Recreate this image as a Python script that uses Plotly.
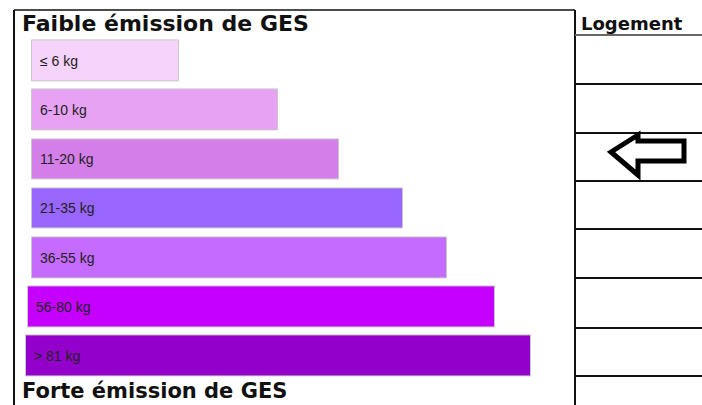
import plotly.graph_objects as go

W, H = 702, 405

# ---- data ----
categories = ["≤ 6 kg", "6-10 kg", "11-20 kg", "21-35 kg", "36-55 kg", "56-80 kg", "> 81 kg"]
bar_lengths = [147, 246, 307, 371, 415, 467, 505]
bar_starts = [32, 32, 32, 32, 32, 28, 26]
bar_colors = ["#f6d3fa", "#e8a2f3", "#d47fe9", "#9966ff", "#c66bff", "#c500ff", "#9300cc"]
title_top = "Faible émission de GES"
title_bottom = "Forte émission de GES"
column_header = "Logement"


def py(p):
    """pixel y -> paper y"""
    return 1 - p / H


fig = go.Figure()
fig.add_trace(go.Bar(
    y=categories,
    x=bar_lengths,
    base=bar_starts,
    orientation="h",
    width=0.83,
    marker=dict(color=bar_colors, line=dict(color="#c8c8c8", width=1)),
    hoverinfo="skip",
    showlegend=False,
))

annotations = []
for i, c in enumerate(categories):
    annotations.append(dict(
        x=bar_starts[i] + 6, y=c, xref="x", yref="y", text=c, showarrow=False,
        xanchor="left", yanchor="middle",
        font=dict(family="Liberation Sans", size=14, color="#222222"),
    ))
annotations.append(dict(
    x=20, y=py(23), xref="x", yref="paper", text=title_top, showarrow=False,
    xanchor="left", yanchor="middle",
    font=dict(family="DejaVu Sans", size=22, color="#111111", weight="bold"),
))
annotations.append(dict(
    x=20, y=py(391), xref="x", yref="paper", text=title_bottom, showarrow=False,
    xanchor="left", yanchor="middle",
    font=dict(family="DejaVu Sans", size=21, color="#111111", weight="bold"),
))
annotations.append(dict(
    x=579, y=py(24), xref="x", yref="paper", text=column_header, showarrow=False,
    xanchor="left", yanchor="middle",
    font=dict(family="DejaVu Sans", size=18, color="#111111", weight="bold"),
))

shapes = []
line_black = dict(color="#111111", width=2)
# frame
shapes.append(dict(type="line", xref="x", yref="paper", x0=14, x1=14, y0=py(10), y1=py(405), line=line_black))
shapes.append(dict(type="line", xref="x", yref="paper", x0=14, x1=575, y0=py(10), y1=py(10), line=dict(color="#111111", width=1.5)))
shapes.append(dict(type="line", xref="x", yref="paper", x0=575, x1=575, y0=py(10), y1=py(405), line=line_black))
shapes.append(dict(type="line", xref="x", yref="paper", x0=575, x1=702, y0=py(35), y1=py(35), line=dict(color="#666666", width=2)))
for yy in [84, 133, 181, 229, 278, 328, 376]:
    shapes.append(dict(type="line", xref="x", yref="paper", x0=575, x1=702, y0=py(yy), y1=py(yy), line=line_black))

# arrow (outline) in the third row
pts = [(611, 152), (638, 135), (638, 141), (684, 141), (684, 161), (638, 161), (638, 175)]
path = "M " + " L ".join(f"{x},{py(y):.5f}" for x, y in pts) + " Z"
shapes.append(dict(type="path", xref="x", yref="paper", path=path,
                   line=dict(color="#000000", width=5), fillcolor="rgba(0,0,0,0)"))

top_c, bot_c = 61, 356
step = (bot_c - top_c) / 6
ytop = top_c - step / 2
ybot = bot_c + step / 2

fig.update_layout(
    width=W, height=H,
    margin=dict(l=0, r=0, t=0, b=0),
    paper_bgcolor="white", plot_bgcolor="white",
    bargap=0,
    xaxis=dict(range=[0, W], domain=[0, 1], visible=False, fixedrange=True),
    yaxis=dict(type="category", categoryorder="array", categoryarray=categories,
               range=[6.5, -0.5], domain=[1 - ybot / H, 1 - ytop / H],
               visible=False, fixedrange=True),
    annotations=annotations,
    shapes=shapes,
)

fig.write_html(
    "out.html",
    config={"displayModeBar": False},
    post_script="document.body.style.margin='0';document.body.style.padding='0';document.body.style.overflow='hidden';",
)
